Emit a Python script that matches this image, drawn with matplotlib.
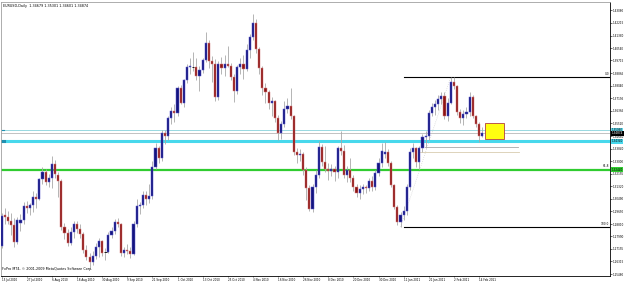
import numpy as np
import pandas as pd
import matplotlib
matplotlib.use("Agg")
import matplotlib.pyplot as plt
from matplotlib.patches import Rectangle

# daily bars EURUSD
opens = [1.2737, 1.2940, 1.2925, 1.2900, 1.2875, 1.2760, 1.2890, 1.2905, 1.3000, 1.2985,
         1.3005, 1.3060, 1.3045, 1.3180, 1.3230, 1.3160, 1.3190, 1.3280, 1.3205, 1.3170,
         1.2860, 1.2820, 1.2755, 1.2825, 1.2880, 1.2850, 1.2815, 1.2710, 1.2660, 1.2630,
         1.2670, 1.2730, 1.2765, 1.2690, 1.2692, 1.2810, 1.2835, 1.2895, 1.2880, 1.2685,
         1.2710, 1.2700, 1.2680, 1.2880, 1.3000, 1.3010, 1.3075, 1.3050, 1.3065, 1.3260,
         1.3390, 1.3320, 1.3490, 1.3465, 1.3590, 1.3635, 1.3620, 1.3790, 1.3690, 1.3840,
         1.3928, 1.3932, 1.3930, 1.3865, 1.3910, 1.3975, 1.4090, 1.3970, 1.3945, 1.3730,
         1.3950, 1.3920, 1.3945, 1.3935, 1.3860, 1.3765, 1.3925, 1.3945, 1.3915, 1.4040,
         1.4130, 1.4220, 1.4050, 1.3920, 1.3785, 1.3760, 1.3690, 1.3700, 1.3590, 1.3490,
         1.3545, 1.3650, 1.3670, 1.3600, 1.3360, 1.3340, 1.3350, 1.3240, 1.3120, 1.2980,
         1.3125, 1.3210, 1.3395, 1.3295, 1.3250, 1.3235, 1.3245, 1.3225, 1.3385, 1.3370,
         1.3210, 1.3240, 1.3190, 1.3130, 1.3090, 1.3115, 1.3125, 1.3120, 1.3165, 1.3125,
         1.3220, 1.3290, 1.3350, 1.3360, 1.3290, 1.3140, 1.2995, 1.2895, 1.2940, 1.2970,
         1.3125, 1.3360, 1.3385, 1.3295, 1.3385, 1.3460, 1.3470, 1.3620, 1.3660, 1.3680,
         1.3715, 1.3735, 1.3600, 1.3690, 1.3830, 1.3800, 1.3630, 1.3590, 1.3615, 1.3630,
         1.3730, 1.3600, 1.3550, 1.34679]
highs = [1.2952, 1.2990, 1.2970, 1.2955, 1.2920, 1.2930, 1.2950, 1.3030, 1.3035, 1.3020,
         1.3100, 1.3090, 1.3190, 1.3260, 1.3245, 1.3215, 1.3334, 1.3305, 1.3230, 1.3180,
         1.2885, 1.2850, 1.2860, 1.2900, 1.2900, 1.2880, 1.2830, 1.2740, 1.2690, 1.2700,
         1.2755, 1.2785, 1.2775, 1.2720, 1.2830, 1.2860, 1.2915, 1.2920, 1.2890, 1.2730,
         1.2750, 1.2725, 1.2900, 1.3050, 1.3030, 1.3100, 1.3100, 1.3150, 1.3300, 1.3420,
         1.3400, 1.3510, 1.3505, 1.3600, 1.3660, 1.3680, 1.3800, 1.3810, 1.3850, 1.3945,
         1.3985, 1.4030, 1.3990, 1.3935, 1.3990, 1.4160, 1.4110, 1.4000, 1.3980, 1.3970,
         1.3995, 1.4010, 1.4070, 1.3955, 1.3880, 1.3940, 1.3990, 1.4010, 1.4080, 1.4150,
         1.4282, 1.4250, 1.4060, 1.3935, 1.3820, 1.3775, 1.3730, 1.3710, 1.3610, 1.3570,
         1.3700, 1.3720, 1.3785, 1.3610, 1.3390, 1.3380, 1.3360, 1.3260, 1.3140, 1.3150,
         1.3240, 1.3435, 1.3415, 1.3400, 1.3290, 1.3280, 1.3270, 1.3400, 1.3500, 1.3405,
         1.3270, 1.3320, 1.3210, 1.3150, 1.3140, 1.3150, 1.3140, 1.3190, 1.3200, 1.3240,
         1.3320, 1.3420, 1.3430, 1.3380, 1.3300, 1.3150, 1.3010, 1.2960, 1.3000, 1.3150,
         1.3390, 1.3420, 1.3395, 1.3400, 1.3480, 1.3500, 1.3640, 1.3690, 1.3710, 1.3740,
         1.3760, 1.3760, 1.3720, 1.3862, 1.3862, 1.3810, 1.3650, 1.3640, 1.3660, 1.3760,
         1.3740, 1.3610, 1.3560, 1.35301]
lows = [1.2720, 1.2880, 1.2880, 1.2810, 1.2730, 1.2745, 1.2835, 1.2880, 1.2955, 1.2940,
        1.2960, 1.2990, 1.3040, 1.3150, 1.3140, 1.3125, 1.3120, 1.3190, 1.3060, 1.2840,
        1.2780, 1.2735, 1.2740, 1.2790, 1.2820, 1.2790, 1.2690, 1.2640, 1.2587, 1.2605,
        1.2650, 1.2660, 1.2670, 1.2640, 1.2685, 1.2790, 1.2815, 1.2860, 1.2665, 1.2660,
        1.2680, 1.2655, 1.2675, 1.2860, 1.2950, 1.2990, 1.3010, 1.3020, 1.3050, 1.3250,
        1.3290, 1.3300, 1.3415, 1.3440, 1.3550, 1.3560, 1.3600, 1.3680, 1.3660, 1.3820,
        1.3880, 1.3900, 1.3840, 1.3770, 1.3890, 1.3960, 1.3920, 1.3830, 1.3700, 1.3710,
        1.3880, 1.3870, 1.3930, 1.3840, 1.3695, 1.3750, 1.3880, 1.3845, 1.3900, 1.3990,
        1.4110, 1.4020, 1.3880, 1.3740, 1.3690, 1.3650, 1.3600, 1.3560, 1.3440, 1.3450,
        1.3530, 1.3620, 1.3580, 1.3340, 1.3290, 1.3300, 1.3210, 1.3040, 1.2968, 1.2960,
        1.3090, 1.3190, 1.3270, 1.3230, 1.3175, 1.3200, 1.3170, 1.3190, 1.3340, 1.3190,
        1.3160, 1.3160, 1.3100, 1.3060, 1.3050, 1.3080, 1.3090, 1.3100, 1.3100, 1.3110,
        1.3200, 1.3260, 1.3320, 1.3270, 1.3130, 1.2980, 1.2875, 1.2862, 1.2905, 1.2940,
        1.3110, 1.3320, 1.3260, 1.3250, 1.3360, 1.3390, 1.3440, 1.3600, 1.3610, 1.3640,
        1.3680, 1.3580, 1.3570, 1.3680, 1.3780, 1.3610, 1.3555, 1.3540, 1.3590, 1.3600,
        1.3590, 1.3530, 1.3428, 1.34601]
closes = [1.2936, 1.2925, 1.2900, 1.2875, 1.2760, 1.2910, 1.2905, 1.3000, 1.2985, 1.3005,
          1.3060, 1.3045, 1.3180, 1.3230, 1.3160, 1.3190, 1.3280, 1.3215, 1.3170, 1.2860,
          1.2820, 1.2755, 1.2825, 1.2880, 1.2850, 1.2815, 1.2710, 1.2660, 1.2630, 1.2670,
          1.2730, 1.2765, 1.2690, 1.2692, 1.2810, 1.2835, 1.2895, 1.2880, 1.2685, 1.2710,
          1.2700, 1.2680, 1.2880, 1.3000, 1.3010, 1.3075, 1.3050, 1.3065, 1.3260, 1.3390,
          1.3320, 1.3490, 1.3465, 1.3590, 1.3635, 1.3620, 1.3790, 1.3690, 1.3840, 1.3928,
          1.3932, 1.3930, 1.3865, 1.3910, 1.3975, 1.4090, 1.3970, 1.3945, 1.3730, 1.3950,
          1.3920, 1.3945, 1.3935, 1.3860, 1.3765, 1.3925, 1.3945, 1.3915, 1.4040, 1.4130,
          1.4220, 1.4050, 1.3920, 1.3785, 1.3760, 1.3690, 1.3700, 1.3590, 1.3490, 1.3545,
          1.3650, 1.3670, 1.3600, 1.3360, 1.3340, 1.3350, 1.3240, 1.3120, 1.2980, 1.3125,
          1.3210, 1.3395, 1.3295, 1.3250, 1.3235, 1.3245, 1.3225, 1.3385, 1.3370, 1.3210,
          1.3240, 1.3190, 1.3130, 1.3090, 1.3115, 1.3125, 1.3120, 1.3165, 1.3125, 1.3220,
          1.3290, 1.3365, 1.3360, 1.3290, 1.3140, 1.2995, 1.2895, 1.2940, 1.2970, 1.3125,
          1.3360, 1.3385, 1.3295, 1.3385, 1.3460, 1.3470, 1.3620, 1.3660, 1.3680, 1.3715,
          1.3735, 1.3600, 1.3690, 1.3830, 1.3800, 1.3630, 1.3590, 1.3615, 1.3630, 1.3730,
          1.3600, 1.3550, 1.3470, 1.34874]

date_labels = ["15 Jul 2010", "27 Jul 2010", "6 Aug 2010", "18 Aug 2010", "30 Aug 2010",
               "9 Sep 2010", "21 Sep 2010", "1 Oct 2010", "13 Oct 2010", "25 Oct 2010",
               "4 Nov 2010", "16 Nov 2010", "26 Nov 2010", "8 Dec 2010", "20 Dec 2010",
               "30 Dec 2010", "11 Jan 2011", "21 Jan 2011", "2 Feb 2011", "14 Feb 2011"]
price_ticks = [1.25480, 1.26315, 1.27155, 1.27990, 1.28810, 1.29650, 1.30490, 1.31320,
               1.32155, 1.33000, 1.33840, 1.34680, 1.35520, 1.36365, 1.37195, 1.38040,
               1.38865, 1.39715, 1.40540, 1.41380, 1.42215, 1.43080]

# objects drawn on the chart
fibo_low, fibo_high = 1.2862, 1.3862
fibo_618 = 1.3244
support_main = 1.3434
line_thin = 1.3506
gray_lines = [1.3394, 1.3364]
box_top, box_bot = 1.3554, 1.3451

dates = pd.bdate_range("2010-07-15", periods=len(closes))
idx = np.arange(len(closes))
o = np.array(opens); h = np.array(highs); l = np.array(lows); c = np.array(closes)

fig = plt.figure(figsize=(6.25, 2.82), dpi=100)
ax = fig.add_axes([1/625, 6/282, 609/625, 274.5/282])
ax.set_xlim(-0.2, 193.7)
ax.set_ylim(1.25347, 1.43647)

# horizontal lines under candles
ax.axhline(support_main, color="#48d8ec", lw=2.2, zorder=1)
ax.axhline(line_thin, color="#98d8e0", lw=0.7, zorder=1)
ax.axhline(c[-1], color="#b8b8b8", lw=0.6, zorder=1)
ax.axhline(fibo_618, color="#30cc30", lw=1.6, zorder=1)
ax.plot([0, 0.6], [support_main, support_main], color="#2090b0", lw=2.2, zorder=2)
ax.plot([0, 0.6], [line_thin, line_thin], color="#2090b0", lw=0.8, zorder=2)

# fibo
fstart = 128
ax.plot([fstart, 193.7], [fibo_high, fibo_high], color="black", lw=0.8, zorder=2)
ax.plot([fstart, 193.7], [fibo_low, fibo_low], color="black", lw=0.8, zorder=2)
ax.plot([127, 143], [fibo_low, fibo_high], color="#c8c8c8", lw=0.5, ls=(0, (1, 2)), zorder=1)
ax.text(192.0, fibo_high + 0.0006, "0.0", fontsize=2.1, ha="left", va="bottom")
ax.text(190.6, fibo_low + 0.0006, "100.0", fontsize=2.1, ha="left", va="bottom")
ax.text(191.3, fibo_618 + 0.0008, "61.8", fontsize=2.1, ha="left", va="bottom")

ax.plot([134.8, 164.3], [gray_lines[0], gray_lines[0]], color="#a8a8a8", lw=0.6, zorder=1)
ax.plot([133.2, 164.6], [gray_lines[1], gray_lines[1]], color="#d8ccb0", lw=0.6, zorder=1)

# candles
ax.vlines(idx, l, h, color="#a8a8a8", lw=0.6, zorder=3)
bull = c > o
bear = c < o
doji = np.abs(c - o) < 0.0003
ax.bar(idx[bull & ~doji], (c - o)[bull & ~doji], bottom=o[bull & ~doji], width=0.68,
       color="#14147e", edgecolor="#5a5ad0", lw=0.35, zorder=4)
ax.bar(idx[bear & ~doji], (o - c)[bear & ~doji], bottom=c[bear & ~doji], width=0.68,
       color="#8c1414", edgecolor="#d88080", lw=0.35, zorder=4)
ax.hlines(c[doji], idx[doji] - 0.4, idx[doji] + 0.4, color="black", lw=0.6, zorder=4)

ax.add_patch(Rectangle((153.9, box_bot), 6.1, box_top - box_bot, facecolor="#ffff10",
                       edgecolor="#b04040", lw=0.6, zorder=5))

# axes look
for s in ["left", "top"]:
    ax.spines[s].set_color("#a0a0a0")
    ax.spines[s].set_linewidth(0.6)
for s in ["right", "bottom"]:
    ax.spines[s].set_color("black")
    ax.spines[s].set_linewidth(0.6)

ax.yaxis.tick_right()
ax.set_yticks(price_ticks)
ax.set_yticklabels(["%.5f" % v for v in price_ticks])
ax.tick_params(axis="y", labelsize=2.0, length=1.5, width=0.4, pad=0.8)

tick_pos = [int(np.where(dates == pd.Timestamp(d))[0][0]) for d in date_labels]
ax.set_xticks(tick_pos)
ax.set_xticklabels(date_labels, ha="left")
ax.tick_params(axis="x", labelsize=2.0, length=1.0, width=0.4, pad=0.2)

# price labels on the scale
tr = ax.get_yaxis_transform()
for val, txt, fc, tc in [(line_thin, "1.35060", "#60d8ec", "black"),
                         (c[-1], "%.5f" % c[-1], "black", "white"),
                         (support_main, "1.34340", "#48d8ec", "black"),
                         (fibo_618, "1.32440", "#30cc30", "black")]:
    ax.text(1.003, val, txt, transform=tr, fontsize=2.0, color=tc, va="center", ha="left",
            bbox=dict(boxstyle="square,pad=0.15", fc=fc, ec="none"), zorder=6, clip_on=False)

ax.text(0.003, 0.99, "EURUSD,Daily  %.5f %.5f %.5f %.5f" % (opens[-1], highs[-1], lows[-1], closes[-1]),
        transform=ax.transAxes, fontsize=2.4, va="top", ha="left")
ax.text(0.002, 0.018, "FxPro MT4, \u00a9 2001-2009 MetaQuotes Software Corp.",
        transform=ax.transAxes, fontsize=2.4, va="bottom", ha="left")

fig.savefig("out.png", dpi=100, facecolor="white")
